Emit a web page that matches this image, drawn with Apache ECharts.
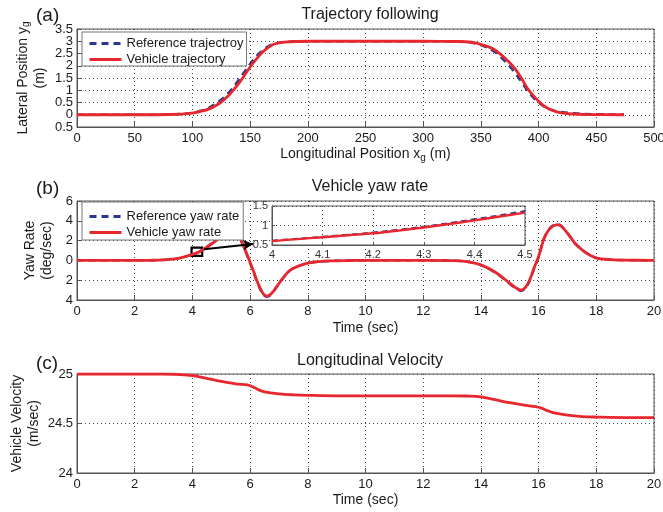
<!DOCTYPE html>
<html><head><meta charset="utf-8">
<script src="https://cdn.jsdelivr.net/npm/echarts@6/dist/echarts.min.js"></script>
<style>html,body{margin:0;padding:0;background:#fff}#c{width:663px;height:512px}</style>
</head><body><div id="c"></div>
<script>
// ---- Panel (a): trajectory ----
const trajX    = [0, 50, 80, 100, 110, 115, 120, 125, 130, 135, 140, 145, 150, 155, 160, 165, 170, 175, 180, 190, 200, 220, 300, 330, 340, 345, 350, 355, 360, 365, 370, 375, 380, 385, 390, 395, 400, 405, 410, 415, 420, 430, 440, 474];
const trajRefY = [0, 0, 0.01, 0.08, 0.2, 0.3, 0.45, 0.62, 0.83, 1.1, 1.42, 1.75, 2.07, 2.37, 2.6, 2.77, 2.88, 2.94, 2.97, 2.99, 3.0, 3.0, 3.0, 2.99, 2.96, 2.91, 2.84, 2.75, 2.62, 2.45, 2.22, 1.97, 1.68, 1.35, 1.0, 0.72, 0.5, 0.33, 0.22, 0.15, 0.11, 0.06, 0.03, 0.01];
const trajVehY = [0, 0, 0.01, 0.07, 0.17, 0.25, 0.37, 0.52, 0.72, 0.98, 1.27, 1.6, 1.95, 2.25, 2.52, 2.72, 2.87, 2.93, 2.96, 2.99, 3.0, 3.0, 3.0, 2.99, 2.97, 2.93, 2.87, 2.8, 2.7, 2.55, 2.35, 2.12, 1.85, 1.5, 1.1, 0.8, 0.55, 0.35, 0.21, 0.13, 0.08, 0.03, 0.01, 0];

// ---- Panel (b): yaw rate ----
const yawT    = [0, 1, 2, 2.5, 3, 3.5, 4, 4.25, 4.5, 4.75, 5, 5.2, 5.35, 5.45, 5.55, 5.7, 5.88, 6, 6.12, 6.23, 6.35, 6.45, 6.52, 6.6, 6.7, 6.8, 6.92, 7.15, 7.38, 7.7, 7.96, 8.4, 8.76, 9.5, 10, 12, 13, 13.5, 14, 14.5, 15, 15.2, 15.4, 15.55, 15.7, 15.85, 16, 16.1, 16.2, 16.32, 16.44, 16.56, 16.67, 16.78, 16.9, 17.09, 17.3, 17.55, 17.8, 18, 18.5, 19, 20];
const yawRef  = [0, 0, 0, 0.01, 0.05, 0.21, 0.61, 0.9, 1.37, 1.9, 2.45, 3.0, 3.28, 3.22, 2.85, 1.9, 0.62, -0.3, -1.2, -2.1, -2.9, -3.42, -3.62, -3.66, -3.52, -3.2, -2.7, -1.78, -1.02, -0.56, -0.31, -0.12, -0.05, -0.01, 0, 0, -0.02, -0.13, -0.47, -1.25, -2.36, -2.82, -3.06, -2.8, -2.0, -0.8, 0.32, 1.35, 2.28, 2.98, 3.4, 3.6, 3.65, 3.5, 3.14, 2.42, 1.62, 0.98, 0.5, 0.25, 0.08, 0.03, 0];
const yawVeh  = [0, 0, 0, 0.01, 0.05, 0.2, 0.6, 0.88, 1.33, 1.85, 2.4, 2.95, 3.25, 3.2, 2.85, 1.95, 0.7, -0.2, -1.1, -2.0, -2.8, -3.35, -3.55, -3.6, -3.45, -3.15, -2.66, -1.75, -1.0, -0.55, -0.3, -0.12, -0.05, -0.01, 0, 0, -0.02, -0.12, -0.45, -1.2, -2.3, -2.75, -3.0, -2.7, -1.9, -0.7, 0.4, 1.4, 2.3, 2.95, 3.35, 3.55, 3.6, 3.45, 3.1, 2.4, 1.6, 0.97, 0.5, 0.24, 0.08, 0.03, 0];
const zoomBox = [[3.97, 1.3], [4.34, 0.46]];
const zoomArrow = [[4.4, 1.12], [6.1, 1.66]];

// ---- Inset (b) ----
const insetT   = [4, 4.05, 4.1, 4.15, 4.2, 4.25, 4.3, 4.35, 4.4, 4.45, 4.5];
const insetRef = [0.61, 0.66, 0.71, 0.76, 0.82, 0.89, 0.97, 1.06, 1.16, 1.26, 1.37];
const insetVeh = [0.6, 0.65, 0.7, 0.75, 0.8, 0.87, 0.95, 1.04, 1.13, 1.23, 1.33];

// ---- Panel (c): velocity ----
const velT = [0, 1, 2, 3, 3.5, 4, 4.25, 4.5, 5, 5.5, 5.9, 6.1, 6.3, 6.5, 7, 7.5, 8, 9, 10, 12, 13, 13.5, 14, 14.5, 15, 15.5, 15.9, 16.1, 16.3, 16.5, 17, 17.5, 18, 19, 20];
const velV = [25, 25, 25, 25, 24.995, 24.985, 24.97, 24.955, 24.925, 24.9, 24.89, 24.87, 24.84, 24.82, 24.8, 24.79, 24.785, 24.78, 24.78, 24.78, 24.78, 24.778, 24.77, 24.74, 24.71, 24.685, 24.67, 24.655, 24.63, 24.61, 24.585, 24.57, 24.565, 24.56, 24.56];

const FONT = 'Liberation Sans, Arial, sans-serif';
const RED = '#e8262d', BLUE = '#2b3592', TXT = '#1a1a1a', AX = '#555';
const zip = (a, b) => a.map((v, i) => [v, b[i]]);
const fmtAbs = v => String(Math.abs(Math.round(v * 100) / 100));

const richName = {
  a: {fontSize: 14, fontFamily: FONT, color: TXT, lineHeight: 17},
  s: {fontSize: 10, fontFamily: FONT, color: TXT, lineHeight: 17, verticalAlign: 'bottom', padding: [7, 0, 0, 0]}
};
const split = {show: true, lineStyle: {color: '#444', type: [1, 3], width: 1}};
function xAx(gi, min, max, interval, name, gap, extra) {
  return Object.assign({
    type: 'value', gridIndex: gi, min, max, interval, position: 'bottom',
    name, nameLocation: 'middle', nameGap: gap, nameMoveOverlap: false,
    nameTextStyle: {rich: richName, fontSize: 14, fontFamily: FONT, color: TXT},
    axisLine: {show: true, onZero: false, lineStyle: {color: AX}},
    axisTick: {show: true, inside: true, length: 5, lineStyle: {color: AX}},
    axisLabel: {fontSize: 13, fontFamily: FONT, color: TXT, margin: 5, hideOverlap: false, showMinLabel: true, showMaxLabel: true},
    splitLine: split
  }, extra || {});
}
function yAx(gi, min, max, interval, name, gap, extra) {
  return Object.assign({
    type: 'value', gridIndex: gi, min, max, interval, position: 'left',
    name, nameLocation: 'middle', nameGap: gap, nameRotate: 90, nameMoveOverlap: false,
    nameTextStyle: {rich: richName, fontSize: 14, fontFamily: FONT, color: TXT},
    axisLine: {show: true, onZero: false, lineStyle: {color: AX}},
    axisTick: {show: true, inside: true, length: 5, lineStyle: {color: AX}},
    axisLabel: {fontSize: 13, fontFamily: FONT, color: TXT, margin: 4, hideOverlap: false, showMinLabel: true, showMaxLabel: true, formatter: fmtAbs},
    splitLine: split
  }, extra || {});
}

const gridBase = {show: true, borderColor: AX, borderWidth: 1, backgroundColor: '#fff', outerBoundsMode: 'none', containLabel: false};
const legendBase = {orient: 'vertical', itemWidth: 32, itemHeight: 12, itemGap: 3, backgroundColor: '#fff', borderColor: '#777', borderWidth: 1, borderRadius: 0,
  itemStyle: {opacity: 0}, lineStyle: {width: 3}, textStyle: {fontSize: 13, fontFamily: FONT, color: TXT}, selectedMode: false, z: 6};

const lineS = (name, data, xi, yi, color, dashed, z, extra) => Object.assign({
  type: 'line', name, data, xAxisIndex: xi, yAxisIndex: yi, showSymbol: false, symbol: 'none',
  smooth: 0.35, z, silent: true, animation: false,
  lineStyle: {color, width: dashed ? 2.4 : 2.8, type: dashed ? [7, 5] : 'solid'},
  itemStyle: {color}
}, extra || {});

const option = {
  animation: false,
  backgroundColor: '#fff',
  title: [
    {text: '(a)', left: 31, top: 1, textStyle: {fontSize: 19, fontWeight: 'normal', fontFamily: FONT, color: TXT}},
    {text: 'Trajectory following', left: 365, top: 2, textAlign: 'center', textStyle: {fontSize: 16, fontWeight: 'normal', fontFamily: FONT, color: TXT}},
    {text: '(b)', left: 31, top: 174, textStyle: {fontSize: 19, fontWeight: 'normal', fontFamily: FONT, color: TXT}},
    {text: 'Vehicle yaw rate', left: 365, top: 174, textAlign: 'center', textStyle: {fontSize: 16, fontWeight: 'normal', fontFamily: FONT, color: TXT}},
    {text: '(c)', left: 31, top: 349, textStyle: {fontSize: 19, fontWeight: 'normal', fontFamily: FONT, color: TXT}},
    {text: 'Longitudinal Velocity', left: 365, top: 348, textAlign: 'center', textStyle: {fontSize: 16, fontWeight: 'normal', fontFamily: FONT, color: TXT}}
  ],
  legend: [
    Object.assign({}, legendBase, {left: 82, top: 32, padding: [5, 3, 0, 6], data: ['Reference trajectroy', 'Vehicle trajectory']}),
    Object.assign({}, legendBase, {left: 82, top: 202, padding: [8, 4, 1, 6], data: ['Reference yaw rate', 'Vehicle yaw rate']})
  ],
  grid: [
    Object.assign({}, gridBase, {left: 77, right: 9, top: 29, height: 98}),
    Object.assign({}, gridBase, {left: 77, right: 9, top: 201, height: 99}),
    Object.assign({}, gridBase, {left: 77, right: 9, top: 374, height: 99}),
    Object.assign({}, gridBase, {left: 272, top: 206, width: 253, height: 39, z: 3})
  ],
  xAxis: [
    xAx(0, 0, 500, 50, '{a|Longitudinal Position x}{s|g}{a| (m)}', 19),
    xAx(1, 0, 20, 2, 'Time (sec)', 21),
    xAx(2, 0, 20, 2, 'Time (sec)', 20),
    xAx(3, 4, 4.5, 0.1, '', 0, {z: 4, axisLabel: {fontSize: 11, fontFamily: FONT, color: '#333', margin: 4, hideOverlap: false, formatter: v => String(Math.round(v * 10) / 10)}, axisTick: {show: true, inside: true, length: 3, lineStyle: {color: AX}}})
  ],
  yAxis: [
    // (a) half-step labels (-0.5, 0.5, ... 3.5)
    yAx(0, -0.5, 3.5, 0.5, '{a|Lateral Position y}{s|g}\n{a|(m)}', 28.5, {axisLabel: {fontSize: 13, fontFamily: FONT, color: TXT, margin: 4, hideOverlap: false, showMinLabel: true, showMaxLabel: true,
      formatter: v => (Math.abs(v * 2) % 2 === 1 ? fmtAbs(v) : '')}}),
    yAx(1, -4, 6, 2, '{a|Yaw Rate}\n{a|(deg/sec)}', 21.5),
    yAx(2, 24, 25, 0.5, '{a|Vehicle Velocity}\n{a|(m/sec)}', 34.5),
    yAx(3, 0.5, 1.5, 0.5, '', 0, {z: 4, axisLabel: {fontSize: 11, fontFamily: FONT, color: '#333', margin: 4, hideOverlap: false}, axisTick: {show: true, inside: true, length: 3, lineStyle: {color: AX}}}),
    // (a) whole-step labels (0, 1, 2, 3), same scale
    yAx(0, -0.5, 3.5, 0.5, '', 0, {axisLine: {show: false}, axisTick: {show: false}, splitLine: {show: false},
      axisLabel: {fontSize: 13, fontFamily: FONT, color: TXT, margin: 4, hideOverlap: false, showMinLabel: true, showMaxLabel: true,
        formatter: v => (Math.abs(v * 2) % 2 === 0 ? fmtAbs(v) : '')}})
  ],
  series: [
    lineS('Reference trajectroy', zip(trajX, trajRefY), 0, 0, BLUE, true, 2),
    lineS('Vehicle trajectory', zip(trajX, trajVehY), 0, 0, RED, false, 2.5),
    lineS('Reference yaw rate', zip(yawT, yawRef), 1, 1, BLUE, true, 2),
    lineS('Vehicle yaw rate', zip(yawT, yawVeh), 1, 1, RED, false, 2.5, {
      markArea: {silent: true, itemStyle: {color: 'rgba(0,0,0,0)', borderColor: '#000', borderWidth: 2.2},
        data: [[{coord: zoomBox[0]}, {coord: zoomBox[1]}]]},
      markLine: {silent: true, symbol: ['none', 'arrow'], symbolSize: [8, 10], label: {show: false},
        lineStyle: {color: '#000', width: 2, type: 'solid'},
        data: [[{coord: zoomArrow[0]}, {coord: zoomArrow[1]}]]}
    }),
    lineS('Vehicle velocity', zip(velT, velV), 2, 2, RED, false, 2.5),
    lineS('Inset reference', zip(insetT, insetRef), 3, 3, BLUE, true, 5, {lineStyle: {color: BLUE, width: 2, type: [6, 4]}}),
    lineS('Inset vehicle', zip(insetT, insetVeh), 3, 3, RED, false, 5.5, {lineStyle: {color: RED, width: 2.4}})
  ]
};
const chart = echarts.init(document.getElementById('c'), null, {renderer: 'canvas'});
chart.setOption(option);
</script>
</body></html>
